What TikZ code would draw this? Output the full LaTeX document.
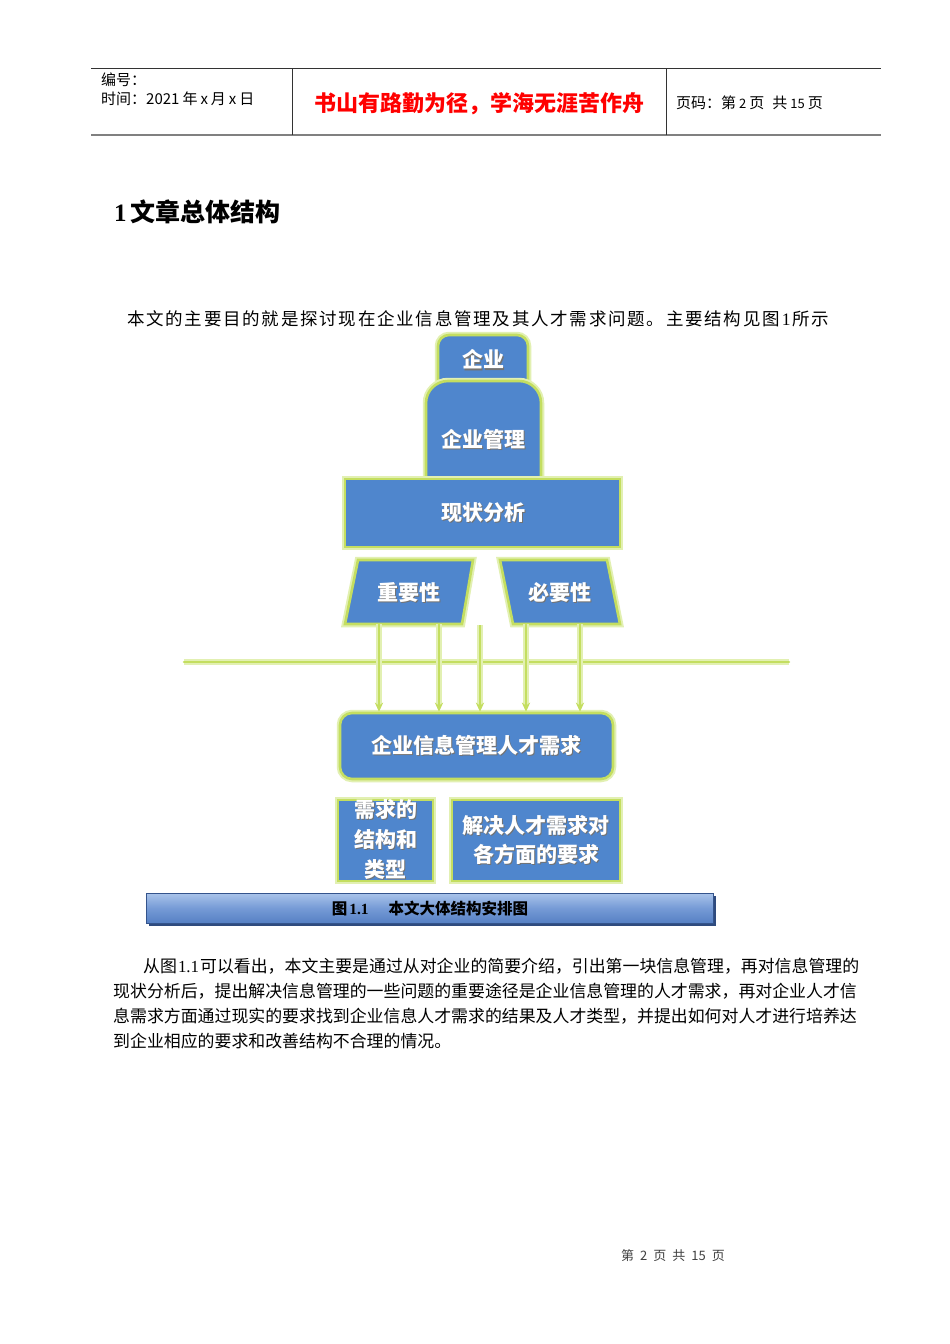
\documentclass[tikz,border=0pt]{standalone}
\usepackage{fontspec}
\setmainfont{Noto Sans CJK SC}
\newfontfamily\latserif{Liberation Serif}
\newfontfamily\introfont{Noto Sans CJK SC}[LetterSpace=10]
\usetikzlibrary{arrows.meta,shadows}
\definecolor{boxblue}{RGB}{79,134,205}
\definecolor{glowc}{RGB}{196,222,96}
\definecolor{glowl}{RGB}{226,240,178}
\definecolor{capdark}{RGB}{52,84,140}
\newcommand\shd[1]{\makebox[0pt][l]{\kern1.3pt\raisebox{-1.3pt}{\color{black!55}#1}}#1}
\tikzset{
  glowbox/.style={fill=boxblue, draw=glowc, line width=2.6pt,
    preaction={draw=glowl, line width=6.5pt}},
  boxtext/.style={text=white, font=\fontsize{21}{30}\selectfont\bfseries, align=center, inner sep=0pt},
  gline/.style={draw=glowc, line width=2.6pt, preaction={draw=glowl, line width=6pt}},
  garrow/.style={gline, -{Stealth[length=9pt,width=8pt]}},
  hdr/.style={font=\fontsize{15}{18}\selectfont, inner sep=0pt, anchor=west},
  para/.style={font=\fontsize{16.9}{25}\selectfont, inner sep=0pt, anchor=west}
}
\begin{document}
\begin{tikzpicture}[x=1pt,y=-1pt]
\useasboundingbox[fill=white] (0,0) rectangle (950,1344);
% header
\draw[black!80, line width=0.9pt] (91,68) -- (881,68);
\draw[black!50, line width=1.8pt] (91,135) -- (881,135);
\draw[black!80, line width=0.8pt] (292,68) -- (292,135);
\draw[black!80, line width=0.8pt] (666,68) -- (666,135);
\node[hdr] (bianhao) at (101,80) {编号：};
\node[hdr] (shijian) at (101,99) {时间：2021\hspace{3pt}年\hspace{3pt}x\hspace{3pt}月\hspace{3pt}x\hspace{3pt}日};
\node[font=\fontsize{22}{26}\selectfont\bfseries, text=red, inner sep=0pt] (motto) at (479,104) {书山有路勤为径，学海无涯苦作舟};
\node[hdr] (yema) at (676,103) {页码：第\hspace{3pt}{\fontsize{13}{15}\selectfont 2}\hspace{3pt}页\hspace{8pt}共\hspace{3pt}{\fontsize{13}{15}\selectfont 15}\hspace{3pt}页};
% title
\node[font=\fontsize{25}{29}\selectfont\bfseries, inner sep=0pt, anchor=west] (title) at (114,212) {{\latserif 1}\hspace{4pt}文章总体结构};
\node[inner sep=0pt, anchor=west, font=\introfont\fontsize{17.5}{25}\selectfont] (intro) at (127,319) {本文的主要目的就是探讨现在企业信息管理及其人才需求问题。主要结构见图\hspace{2pt}{\latserif 1}\hspace{2pt}所示};
% diagram
\path[glowbox] (438,398) [rounded corners=11pt] -- (438,335) -- (528,335) [sharp corners] -- (528,398) -- cycle;
\path[glowbox] (426,495) [rounded corners=22pt] -- (426,381) -- (541,381) [sharp corners] -- (541,495) -- cycle;
\path[glowbox] (345,479) rectangle (620,547);
\node[boxtext] (qiye) at (483,360) {\shd{企业}};
\node[boxtext] (guanli) at (483,440) {\shd{企业管理}};
\node[boxtext] (xianzhuang) at (483,513) {\shd{现状分析}};
\path[glowbox] (345,624) -- (358,560) -- (473,560) -- (462,624) -- cycle;
\path[glowbox] (500,560) -- (607,560) -- (620,624) -- (513,624) -- cycle;
\node[boxtext] (zhongyao) at (409,593) {\shd{重要性}};
\node[boxtext] (biyao) at (560,593) {\shd{必要性}};
\coordinate (hl) at (184,662);
\coordinate (hr) at (789,662);
\draw[gline, line cap=round] (hl) -- (hr);
\node[glowbox, rounded corners=12pt, minimum width=273pt, minimum height=66pt, inner sep=0pt] (need) at (476.5,746) {};
\node[boxtext] (needt) at (476,746) {\shd{企业信息管理人才需求}};
\coordinate (s1) at (379,624);
\coordinate (s2) at (439,624);
\coordinate (s3) at (480,625);
\coordinate (s4) at (526,624);
\coordinate (s5) at (580,624);
\foreach \s in {s1,s2,s3,s4,s5}{
  \draw[garrow] (\s) -- (\s |- need.north);
}
\node[glowbox, minimum width=95pt, minimum height=81pt, inner sep=0pt] (typebox) at (385.5,840.5) {};
\node[boxtext] (typet) at (385.5,840) {\shd{需求的}\\\shd{结构和}\\\shd{类型}};
\node[glowbox, minimum width=168pt, minimum height=81pt, inner sep=0pt] (solve) at (536,840.5) {};
\node[boxtext, font=\fontsize{21}{29}\selectfont\bfseries] (solvet) at (536,840.5) {\shd{解决人才需求对}\\\shd{各方面的要求}};
% caption bar
\fill[capdark!90!black] (149,896) rectangle (716,926);
\node[minimum width=567pt, minimum height=30pt, inner sep=0pt, draw=capdark, line width=0.8pt,
  top color={rgb,255:red,170;green,196;blue,234}, bottom color={rgb,255:red,86;green,128;blue,196},
  middle color={rgb,255:red,118;green,155;blue,214}] (caption) at (429.5,908) {};
\node[font=\fontsize{15.5}{17}\selectfont\bfseries, inner sep=0pt] (capt) at (430,909) {图\hspace{2pt}{\latserif\bfseries 1.1}\hspace{20pt}本文大体结构安排图};
% paragraph
\node[para] (p1) at (143,966) {从图\hspace{1pt}{\latserif 1.1}\hspace{1pt}可以看出，本文主要是通过从对企业的简要介绍，引出第一块信息管理，再对信息管理的};
\node[para] (p2) at (113,991) {现状分析后，提出解决信息管理的一些问题的重要途径是企业信息管理的人才需求，再对企业人才信};
\node[para] (p3) at (113,1016) {息需求方面通过现实的要求找到企业信息人才需求的结果及人才类型，并提出如何对人才进行培养达};
\node[para] (p4) at (113,1041) {到企业相应的要求和改善结构不合理的情况。};
% footer
\node[font=\fontsize{13}{15}\selectfont, text=black!75, inner sep=0pt] (footer) at (673,1256) {第\hspace{6pt}2\hspace{6pt}页\hspace{6pt}共\hspace{6pt}15\hspace{6pt}页};
\end{tikzpicture}
\end{document}
